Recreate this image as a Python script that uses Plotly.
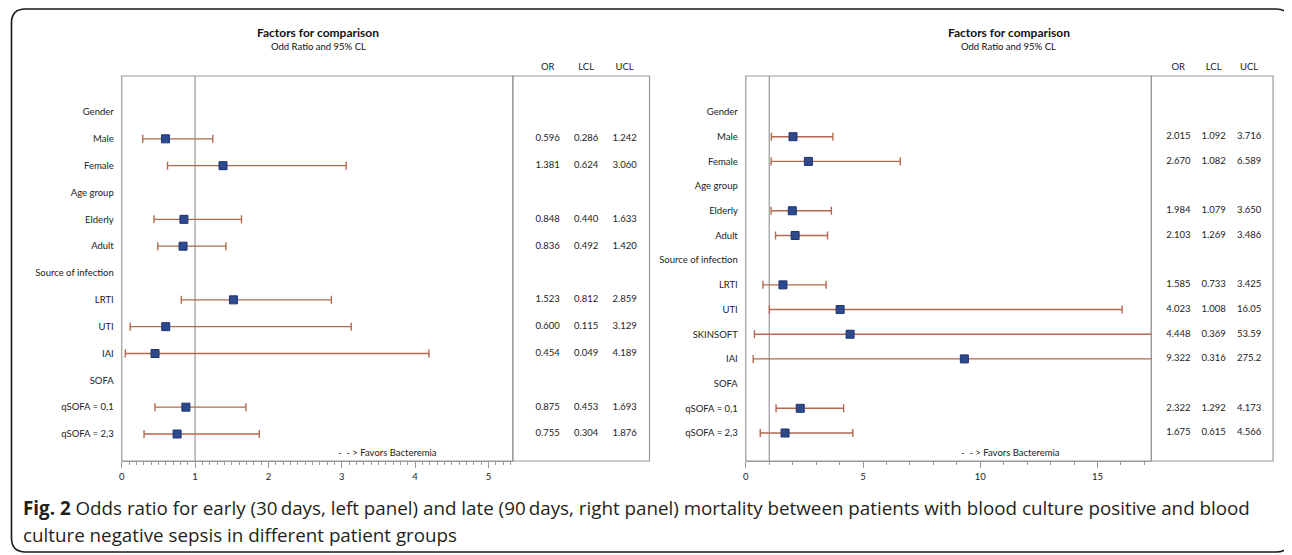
import plotly.graph_objects as go

W, H = 1292, 555
OX, OY = 8, 8  # page offset of the plot div (default body margin)

# ---------------- data ----------------
labels_L = ["Gender", "Male", "Female", "Age group", "Elderly", "Adult",
            "Source of infection", "LRTI", "UTI", "IAI", "SOFA",
            "qSOFA = 0,1", "qSOFA = 2,3"]
or_L = [None, 0.596, 1.381, None, 0.848, 0.836, None, 1.523, 0.600, 0.454, None, 0.875, 0.755]
lcl_L = [None, 0.286, 0.624, None, 0.440, 0.492, None, 0.812, 0.115, 0.049, None, 0.453, 0.304]
ucl_L = [None, 1.242, 3.060, None, 1.633, 1.420, None, 2.859, 3.129, 4.189, None, 1.693, 1.876]

labels_R = ["Gender", "Male", "Female", "Age group", "Elderly", "Adult",
            "Source of infection", "LRTI", "UTI", "SKINSOFT", "IAI", "SOFA",
            "qSOFA = 0,1", "qSOFA = 2,3"]
or_R = [None, 2.015, 2.670, None, 1.984, 2.103, None, 1.585, 4.023, 4.448, 9.322, None, 2.322, 1.675]
lcl_R = [None, 1.092, 1.082, None, 1.079, 1.269, None, 0.733, 1.008, 0.369, 0.316, None, 1.292, 0.615]
ucl_R = [None, 3.716, 6.589, None, 3.650, 3.486, None, 3.425, 16.05, 53.59, 275.2, None, 4.173, 4.566]

table_cols = ["OR", "LCL", "UCL"]
xticks_L = [0, 1, 2, 3, 4, 5]
xticks_R = [0, 5, 10, 15]

title_text = "Factors for comparison"
subtitle_text = "Odd Ratio and 95% CL"
favors_text = "-  - > Favors Bacteremia"
caption_bold = "Fig. 2"
caption_1 = " Odds ratio for early (30\u2009days, left panel) and late (90\u2009days, right panel) mortality between patients with blood culture positive and blood"
caption_2 = "culture negative sepsis in different patient groups"

# ---------------- style ----------------
FONT = "Lato, sans-serif"
CAP_FONT = "Open Sans, sans-serif"
BAR_C = "#B26A4F"
MK_C = "#2D4A8E"
GRID_C = "#9A9A9A"
TXT_C = "#222222"
FS = 9.5


def px(x):
    return (x - OX) / W


def py(y):
    return 1 - (y - OY) / H


def fmt(v):
    if v < 10:
        return f"{v:.3f}"
    if v < 100:
        return f"{v:.2f}"
    return f"{v:.1f}"


fig = go.Figure()


def add_panel(labels, orv, lcl, ucl, xa, ya, xt):
    rows = [-i for i in range(len(labels))]
    idx = [i for i, v in enumerate(orv) if v is not None]
    ys = [rows[i] for i in idx]
    xs = [orv[i] for i in idx]
    plus = [ucl[i] - orv[i] for i in idx]
    minus = [orv[i] - lcl[i] for i in idx]
    fig.add_trace(go.Scatter(
        x=xs, y=ys, mode="markers", xaxis=xa, yaxis=ya,
        marker=dict(symbol="square", size=8, color=MK_C,
                    line=dict(color="#1E336E", width=1)),
        error_x=dict(type="data", symmetric=False, array=plus, arrayminus=minus,
                     color=BAR_C, thickness=1.4, width=4),
        showlegend=False, hoverinfo="skip"))
    tx, ty, tt = [], [], []
    for col, arr in zip(table_cols, (orv, lcl, ucl)):
        for i in idx:
            tx.append(col)
            ty.append(rows[i])
            tt.append(fmt(arr[i]))
    fig.add_trace(go.Scatter(
        x=tx, y=ty, text=tt, mode="text", xaxis=xt, yaxis=ya,
        textfont=dict(family=FONT, size=FS, color=TXT_C),
        showlegend=False, hoverinfo="skip"))
    return rows


rows_L = add_panel(labels_L, or_L, lcl_L, ucl_L, "x", "y", "x2")
rows_R = add_panel(labels_R, or_R, lcl_R, ucl_R, "x3", "y2", "x4")

# geometry (page pixels)
TOP, BOT = 76, 461
L_x0, L_x1, L_t1 = 119, 511, 648
R_x0, R_x1, R_t1 = 744.5, 1151, 1273
ROW0 = 112
step_L = (434 - 112) / 12
step_R = (433 - 112) / 13

ydom = [py(BOT), py(TOP)]
tickfont = dict(family=FONT, size=FS, color=TXT_C)

common_x = dict(showgrid=False, zeroline=False, showline=True, linecolor=GRID_C,
                linewidth=1.2, ticks="outside", ticklen=6, tickcolor=GRID_C,
                tickfont=tickfont, fixedrange=True)
common_t = dict(side="top", type="category", categoryorder="array",
                categoryarray=table_cols, showgrid=False, zeroline=False,
                showline=False, ticks="", tickfont=tickfont, fixedrange=True,
                ticklabelstandoff=3)
common_y = dict(ticks="", showgrid=False, zeroline=False, showline=False,
                tickfont=tickfont, fixedrange=True, ticklabelstandoff=7)
fig.update_layout(
    xaxis=dict(domain=[px(L_x0), px(L_x1)], range=[0, (L_x1 - L_x0) / 73.5],
               tickvals=xticks_L, anchor="y",
               minor=dict(dtick=0.1, ticks="outside", ticklen=3, tickcolor=GRID_C),
               **common_x),
    xaxis3=dict(domain=[px(R_x0), px(R_x1)], range=[0, (R_x1 - R_x0) / 23.5],
                tickvals=xticks_R, anchor="y2",
                minor=dict(dtick=1, ticks="outside", ticklen=3, tickcolor=GRID_C),
                **common_x),
    xaxis2=dict(domain=[px(L_x1), px(L_t1)], anchor="y",
                range=[-(546 - L_x1) / 38.5, 2 + (L_t1 - 623) / 38.5], **common_t),
    xaxis4=dict(domain=[px(R_x1), px(R_t1)], anchor="y2",
                range=[-(1178 - R_x1) / 35.5, 2 + (R_t1 - 1249) / 35.5], **common_t),
    yaxis=dict(domain=ydom, anchor="x",
               range=[-(BOT - ROW0) / step_L, (ROW0 - TOP) / step_L],
               tickvals=rows_L, ticktext=labels_L, **common_y),
    yaxis2=dict(domain=ydom, anchor="x3",
                range=[-(BOT - ROW0) / step_R, (ROW0 - TOP) / step_R],
                tickvals=rows_R, ticktext=labels_R, **common_y),
)

shapes = []
for xr, yr in (("x domain", "y domain"), ("x2 domain", "y domain"),
               ("x3 domain", "y2 domain"), ("x4 domain", "y2 domain")):
    shapes.append(dict(type="rect", xref=xr, yref=yr, x0=0, x1=1, y0=0, y1=1,
                       line=dict(color=GRID_C, width=1.2), layer="below"))
shapes.append(dict(type="line", xref="x", yref="y domain", x0=1, x1=1, y0=0, y1=1,
                   line=dict(color=GRID_C, width=1.2), layer="below"))
shapes.append(dict(type="line", xref="x3", yref="y2 domain", x0=1, x1=1, y0=0, y1=1,
                   line=dict(color=GRID_C, width=1.2), layer="below"))
# outer rounded frame
x0f, x1f, y0f, y1f = px(8.5), px(1290), py(552), py(9)
rx, ry = 14 / W, 14 / H
path = (f"M {x0f + rx},{y1f} L {x1f - rx},{y1f} Q {x1f},{y1f} {x1f},{y1f - ry} "
        f"L {x1f},{y0f + ry} Q {x1f},{y0f} {x1f - rx},{y0f} "
        f"L {x0f + rx},{y0f} Q {x0f},{y0f} {x0f},{y0f + ry} "
        f"L {x0f},{y1f - ry} Q {x0f},{y1f} {x0f + rx},{y1f} Z")
shapes.append(dict(type="path", xref="paper", yref="paper", path=path,
                   line=dict(color="#1A1A1A", width=1.6)))

ann = []
for cx in (316, 1008):
    ann.append(dict(x=px(cx), y=py(33), xref="paper", yref="paper", text=title_text,
                    showarrow=False, xanchor="center", yanchor="middle",
                    font=dict(family=FONT, size=12, color="#111111", weight="bold")))
    ann.append(dict(x=px(cx), y=py(47), xref="paper", yref="paper", text=subtitle_text,
                    showarrow=False, xanchor="center", yanchor="middle",
                    font=dict(family=FONT, size=9.5, color="#111111")))
ann.append(dict(x=(385 - L_x0) / (L_x1 - L_x0), y=py(452), xref="x domain", yref="paper",
                text=favors_text, showarrow=False, xanchor="center", yanchor="middle",
                font=dict(family=FONT, size=FS, color=TXT_C)))
ann.append(dict(x=(1010 - R_x0) / (R_x1 - R_x0), y=py(452), xref="x3 domain", yref="paper",
                text=favors_text, showarrow=False, xanchor="center", yanchor="middle",
                font=dict(family=FONT, size=FS, color=TXT_C)))
ann.append(dict(x=px(18), y=py(508), xref="paper", yref="paper",
                text=f"<b>{caption_bold}</b>{caption_1}", showarrow=False,
                xanchor="left", yanchor="middle", align="left",
                font=dict(family=CAP_FONT, size=18.8, color="#231F20")))
ann.append(dict(x=px(18), y=py(535), xref="paper", yref="paper",
                text=caption_2, showarrow=False,
                xanchor="left", yanchor="middle", align="left",
                font=dict(family=CAP_FONT, size=18.8, color="#231F20")))

fig.update_layout(width=W, height=H, margin=dict(l=0, r=0, t=0, b=0),
                  paper_bgcolor="white", plot_bgcolor="white",
                  shapes=shapes, annotations=ann, showlegend=False)

fig.write_html("out.html")
